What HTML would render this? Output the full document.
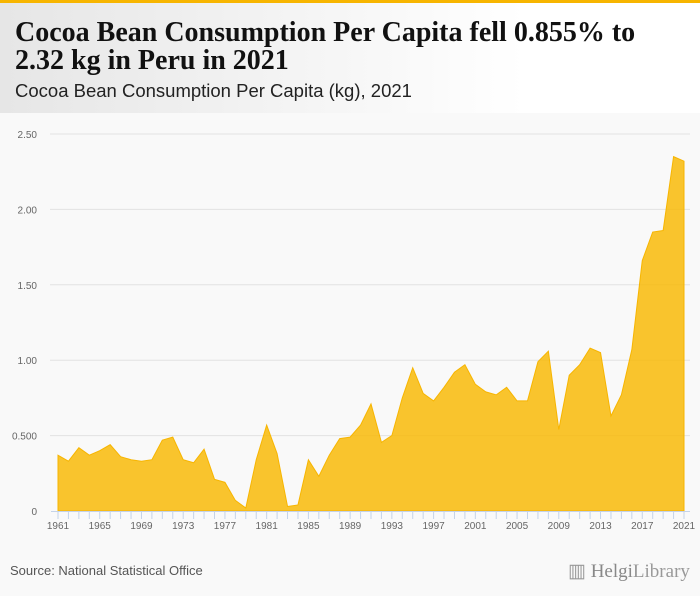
<!DOCTYPE html>
<html><head><meta charset="utf-8"><style>
body{margin:0;width:700px;height:596px;background:#f9f9f9;font-family:"Liberation Sans",sans-serif;overflow:hidden;position:relative}
#topbar{position:absolute;left:0;top:0;width:700px;height:3px;background:#f7b500}
#header{position:absolute;left:0;top:3px;width:700px;height:110px;background:linear-gradient(90deg,#e6e6e6,#ffffff 75%)}
#title{position:absolute;left:15px;top:19px;font-family:"Liberation Serif",serif;font-weight:bold;font-size:28px;line-height:28px;color:#111;margin:0;white-space:nowrap}
#subtitle{position:absolute;left:15px;top:80px;font-size:18.5px;color:#222}
#source{position:absolute;left:10px;top:563px;font-size:13px;color:#555}
#logo{position:absolute;left:568px;top:560px;font-family:"Liberation Serif",serif;font-size:19px;color:#999}
</style></head><body>
<div id="topbar"></div>
<div id="header"></div>
<h1 id="title">Cocoa Bean Consumption Per Capita fell 0.855% to<br>2.32 kg in Peru in 2021</h1>
<div id="subtitle">Cocoa Bean Consumption Per Capita (kg), 2021</div>
<svg id="chart" width="700" height="596" style="position:absolute;left:0;top:0"></svg>
<div id="source">Source: National Statistical Office</div>
<div id="logo">▥ <b style="font-weight:normal;color:#888">Helgi</b>Library</div>
<script>
const years=[];for(let y=1961;y<=2021;y++)years.push(y);
const values=[0.37,0.33,0.42,0.37,0.40,0.44,0.36,0.34,0.33,0.34,0.47,0.49,0.34,0.32,0.41,0.21,0.19,0.07,0.02,0.34,0.57,0.38,0.03,0.04,0.34,0.23,0.37,0.48,0.49,0.57,0.71,0.455,0.50,0.75,0.95,0.78,0.73,0.82,0.92,0.97,0.84,0.79,0.77,0.82,0.73,0.73,0.99,1.06,0.54,0.90,0.97,1.08,1.05,0.63,0.77,1.07,1.66,1.85,1.86,2.35,2.32];
const yTicks=[0,0.5,1,1.5,2,2.5];
const yTickLabels=["0","0.500","1.00","1.50","2.00","2.50"];
const xLabelYears=[1961,1965,1969,1973,1977,1981,1985,1989,1993,1997,2001,2005,2009,2013,2017,2021];
const svg=document.getElementById('chart');const NS="http://www.w3.org/2000/svg";
const x=yr=>58+(yr-1961)*(684-58)/60;
const y=v=>511-v*(511-134)/2.5;
function mk(t,a){const e=document.createElementNS(NS,t);for(const k in a)e.setAttribute(k,a[k]);svg.appendChild(e);return e;}
yTicks.forEach((t,i)=>{
 if(t>0){const g=mk('line',{x1:50,x2:690,y1:y(t),y2:y(t),stroke:'#e2e2e2','stroke-width':1});
 
 }
 const l=mk('text',{x:37,y:y(t)+4,'text-anchor':'end','font-size':10,fill:'#666','font-family':'Liberation Sans, sans-serif'});
 
 
 l.textContent=yTickLabels[i];
});
let d='M'+x(years[0])+','+y(0);
years.forEach((yr,i)=>{d+=' L'+x(yr)+','+y(values[i]);});
d+=' L'+x(years[years.length-1])+','+y(0)+' Z';
const area=mk('path',{d:d,fill:'#f9b800','fill-opacity':0.82,stroke:'#f7b500','stroke-width':1});


const ax=mk('line',{x1:51,x2:690,y1:511.5,y2:511.5,stroke:'#c5d3e8'});


years.forEach(yr=>{const t=mk('line',{x1:x(yr),x2:x(yr),y1:511,y2:519,stroke:'#c5d3e8'});
 
 });
xLabelYears.forEach(yr=>{const l=mk('text',{x:x(yr),y:529,'text-anchor':'middle','font-size':10,fill:'#666','font-family':'Liberation Sans, sans-serif'});
 
 
 l.textContent=yr;});
</script>
</body></html>
